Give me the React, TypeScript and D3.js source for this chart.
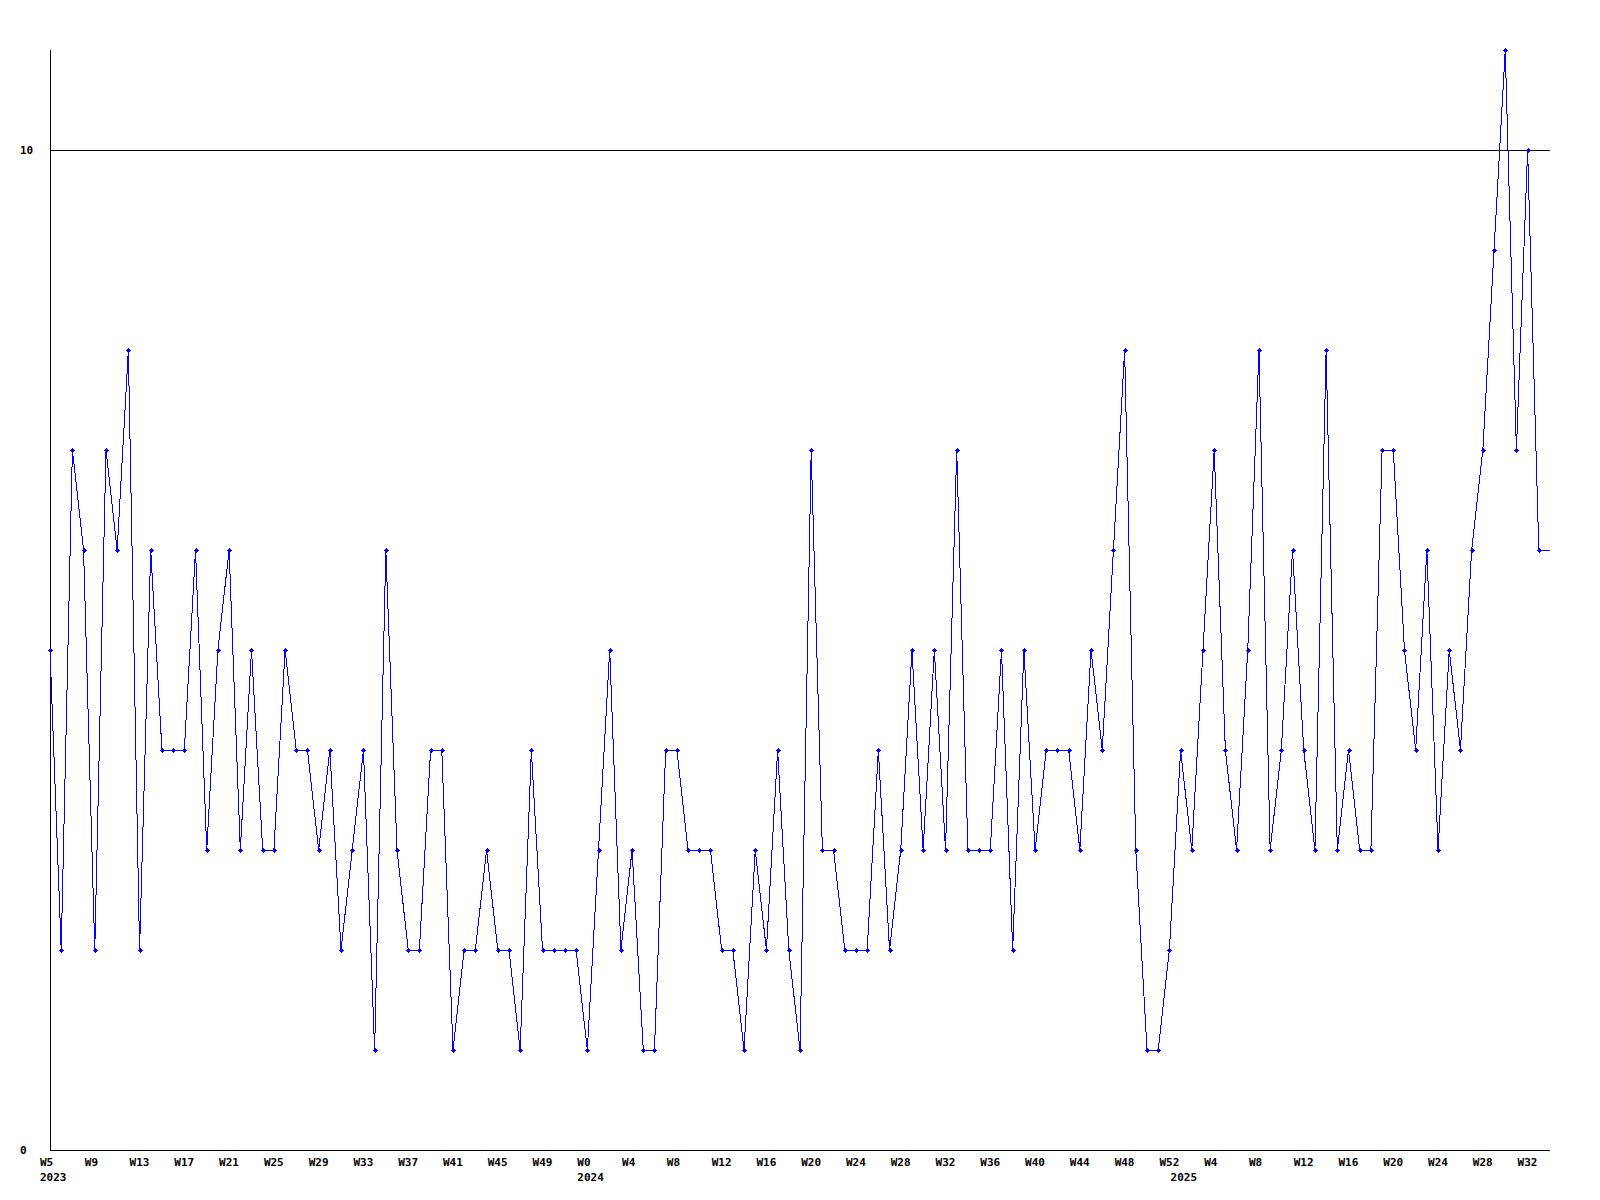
import React from "react";
import * as d3 from "d3";

// Weekly values, from 2023 W5 to 2025 W33 (one per week)
const values: number[] = [
  5, 2, 7, 6, 2, 7, 6, 8, 2, 6, 4, 4, 4, 6, 3, 5, 6, 3, 5, 3, 3, 5, 4, 4, 3, 4, 2, 3, 4, 1, 6, 3, 2, 2, 4, 4,
  1, 2, 2, 3, 2, 2, 1, 4, 2, 2, 2, 2, 1, 3, 5, 2, 3, 1, 1, 4, 4, 3, 3, 3, 2, 2, 1, 3, 2, 4, 2, 1, 7, 3, 3, 2,
  2, 2, 4, 2, 3, 5, 3, 5, 3, 7, 3, 3, 3, 5, 2, 5, 3, 4, 4, 4, 3, 5, 4, 6, 8, 3, 1, 1, 2, 4, 3, 5, 7, 4, 3, 5,
  8, 3, 4, 6, 4, 3, 8, 3, 4, 3, 3, 7, 7, 5, 4, 6, 3, 5, 4, 6, 7, 9, 11, 7, 10, 6,
];

// Week tick labels, one every 4 points starting at point 0
const weekTicks: string[] = [
  "W5", "W9", "W13", "W17", "W21", "W25", "W29", "W33", "W37", "W41", "W45", "W49",
  "W0", "W4", "W8", "W12", "W16", "W20", "W24", "W28", "W32", "W36", "W40", "W44", "W48", "W52",
  "W4", "W8", "W12", "W16", "W20", "W24", "W28", "W32",
];
const weekTickStep = 4;

// Year labels and the point index where each year starts
const yearLabels: string[] = ["2023", "2024", "2025"];
const yearStartIdx: number[] = [0, 48, 101];

// Y axis labelled values
const yTicks: number[] = [0, 10];
const yMax = 11;

const W = 1600;
const H = 1200;
const left = 50;
const right = 1550;
const top = 50;
const bottom = 1150;
const FONT = "'DejaVu Sans Mono', monospace";

export default function App() {
  const n = values.length;
  const x = d3.scaleLinear().domain([0, n]).range([left, right]);
  const y = d3.scaleLinear().domain([0, yMax]).range([bottom, top]);

  const extended = values.map((v, i) => ({ i, v }));
  extended.push({ i: n, v: values[n - 1] });

  const line = d3
    .line<{ i: number; v: number }>()
    .x((d) => x(d.i))
    .y((d) => y(d.v));

  return (
    <svg
      width={W}
      height={H}
      style={{ position: "absolute", left: 0, top: 0, background: "#fff" }}
      xmlns="http://www.w3.org/2000/svg"
    >
      <rect x={0} y={0} width={W} height={H} fill="#fff" />
      {/* gridline(s) for nonzero y ticks */}
      {yTicks
        .filter((t) => t !== 0)
        .map((t) => (
          <line
            key={"g" + t}
            x1={left}
            x2={right}
            y1={Math.round(y(t)) + 0.5}
            y2={Math.round(y(t)) + 0.5}
            stroke="#000"
            strokeWidth={1}
            shapeRendering="crispEdges"
          />
        ))}
      {/* axes */}
      <line x1={left + 0.5} x2={left + 0.5} y1={top} y2={bottom} stroke="#000" shapeRendering="crispEdges" />
      <line x1={left} x2={right} y1={bottom + 0.5} y2={bottom + 0.5} stroke="#000" shapeRendering="crispEdges" />

      {/* y labels */}
      {yTicks.map((t) => (
        <text
          key={"y" + t}
          x={20}
          y={y(t) + 4}
          fontFamily={FONT}
          fontWeight="bold"
          fontSize={11}
          fill="#000"
        >
          {t}
        </text>
      ))}

      {/* x week labels */}
      {weekTicks.map((lab, k) => (
        <text
          key={"w" + k}
          x={x(k * weekTickStep) - 10}
          y={1166}
          fontFamily={FONT}
          fontWeight="bold"
          fontSize={11}
          fill="#000"
        >
          {lab}
        </text>
      ))}
      {yearLabels.map((lab, k) => (
        <text
          key={"yr" + k}
          x={x(yearStartIdx[k]) - 10}
          y={1181}
          fontFamily={FONT}
          fontWeight="bold"
          fontSize={11}
          fill="#000"
        >
          {lab}
        </text>
      ))}

      {/* data line */}
      <path d={line(extended) || ""} fill="none" stroke="#0000ff" strokeWidth={1} shapeRendering="crispEdges" />

      {/* markers */}
      {values.map((v, i) => {
        const cx = Math.round(x(i));
        const cy = Math.round(y(v));
        return (
          <g key={"m" + i} fill="#0000ff" shapeRendering="crispEdges">
            <rect x={cx - 2} y={cy} width={5} height={1} />
            <rect x={cx - 1} y={cy - 1} width={3} height={3} />
            <rect x={cx} y={cy - 2} width={1} height={5} />
          </g>
        );
      })}
    </svg>
  );
}
